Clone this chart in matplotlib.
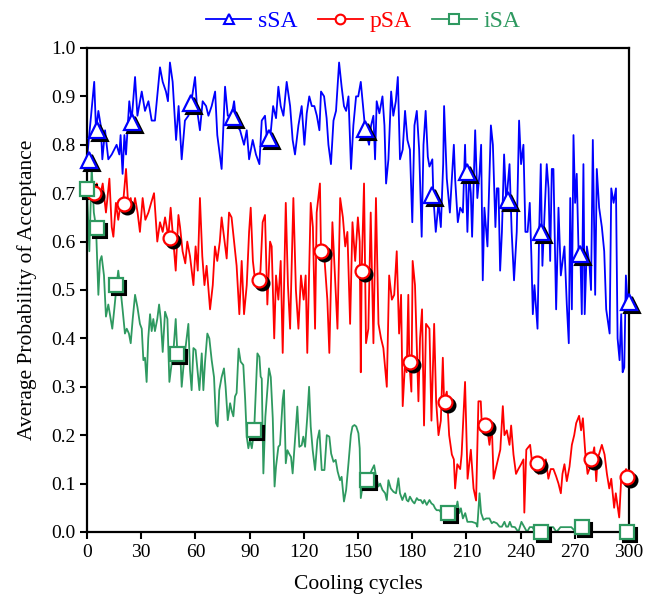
import matplotlib
matplotlib.use("Agg")
import matplotlib.pyplot as plt
from matplotlib.lines import Line2D
from matplotlib.transforms import offset_copy


# (cooling cycle, average probability of acceptance)
SSA_POINTS = [
    (0, 0.77), (4, 0.93), (5, 0.83), (6.3, 0.87), (7.6, 0.84), (8.5, 0.77), (10, 0.83), (11.8, 0.77),
    (13.7, 0.78), (16.4, 0.80), (17.9, 0.78), (18.6, 0.82), (19.7, 0.74), (20.7, 0.82), (21.6, 0.78),
    (23.4, 0.89), (24.7, 0.85), (26.6, 0.94), (27.9, 0.86), (30.3, 0.91), (32.1, 0.87), (34, 0.89),
    (35.8, 0.85), (37.6, 0.85), (38.9, 0.90), (40.4, 0.96), (41.9, 0.93), (43.7, 0.91), (44.8, 0.89),
    (45.9, 0.97), (47.4, 0.93), (49.3, 0.81), (50.7, 0.88), (52.4, 0.77), (54.2, 0.85), (56.1, 0.86),
    (57.4, 0.88), (59.8, 0.94), (61, 0.87), (62.5, 0.83), (64, 0.89), (65.9, 0.88), (67.2, 0.86),
    (69, 0.88), (70.9, 0.91), (72.1, 0.82), (74.5, 0.75), (76.4, 0.92), (77.9, 0.86), (80, 0.86),
    (81.4, 0.89), (82.8, 0.84), (84.7, 0.83), (86.9, 0.80), (88.4, 0.83), (89.7, 0.77), (91.7, 0.81),
    (93.5, 0.78), (95.4, 0.76), (96.7, 0.85), (98.5, 0.86), (99.4, 0.82), (101.3, 0.81), (103, 0.88),
    (104.6, 0.855), (105.9, 0.92), (107.2, 0.88), (108.7, 0.86), (110.5, 0.93), (112.4, 0.88),
    (113.8, 0.81), (115.1, 0.78), (117, 0.84), (118.8, 0.88), (120.3, 0.80), (121.6, 0.865), (123, 0.90),
    (124.4, 0.88), (125.8, 0.88), (127.2, 0.86), (128.6, 0.83), (129.5, 0.91), (131.2, 0.90),
    (132.6, 0.855), (133.6, 0.80), (135, 0.76), (136.4, 0.85), (137.8, 0.87), (139.5, 0.97),
    (140.9, 0.92), (142.2, 0.88), (143.4, 0.87), (144.7, 0.90), (146.1, 0.75), (147.4, 0.84),
    (148.9, 0.90), (150.1, 0.90), (151.5, 0.93), (153, 0.87), (154, 0.83), (156.1, 0.80), (157.2, 0.84),
    (158.5, 0.86), (159.4, 0.77), (160.3, 0.89), (161.8, 0.865), (163.5, 0.90), (164.6, 0.84),
    (165.5, 0.72), (166.8, 0.77), (168.3, 0.91), (169.5, 0.86), (170.9, 0.89), (172, 0.94), (173.2, 0.77),
    (174.7, 0.79), (176, 0.87), (177.3, 0.81), (178.7, 0.79), (180, 0.64), (181.2, 0.84), (182.5, 0.87),
    (183.8, 0.79), (185.2, 0.61), (186.2, 0.80), (187.4, 0.87), (188.6, 0.775), (189.5, 0.755),
    (191.1, 0.77), (191.7, 0.69), (193, 0.62), (194.5, 0.68), (195.8, 0.63), (197.1, 0.76), (197.6, 0.88),
    (199.1, 0.73), (200.8, 0.66), (203, 0.80), (203.7, 0.73), (205.2, 0.64), (206.5, 0.67), (208, 0.66),
    (209.2, 0.80), (210.5, 0.62), (211.5, 0.74), (212.4, 0.70), (213.1, 0.61), (214.8, 0.83), (216, 0.69),
    (217.2, 0.74), (218.1, 0.80), (219, 0.52), (219.9, 0.67), (221.6, 0.59), (223.5, 0.84), (224.6, 0.80),
    (226, 0.63), (226.8, 0.71), (227.7, 0.71), (228.6, 0.54), (229.6, 0.62), (230.8, 0.78), (232, 0.68),
    (233.8, 0.76), (235, 0.62), (236.3, 0.52), (237.8, 0.62), (239.1, 0.85), (240.2, 0.76), (241.5, 0.80),
    (242.6, 0.62), (243.8, 0.62), (245, 0.68), (245.9, 0.57), (246.7, 0.45), (247.6, 0.51), (249.3, 0.42),
    (250.2, 0.62), (251.1, 0.76), (252, 0.55), (253.1, 0.65), (254.4, 0.76), (255.4, 0.71), (256.3, 0.56),
    (257.2, 0.75), (258.1, 0.75), (259.6, 0.46), (260.9, 0.67), (262.2, 0.53), (264.2, 0.59),
    (265.5, 0.47), (266.6, 0.39), (267.4, 0.69), (268.3, 0.46), (269.2, 0.82), (270.1, 0.68), (271, 0.74),
    (272, 0.58), (272.9, 0.59), (273.8, 0.45), (274.7, 0.76), (275.4, 0.45), (276.6, 0.59), (278, 0.555),
    (278.9, 0.50), (279.9, 0.81), (281.2, 0.49), (282.1, 0.75), (283.4, 0.67), (284.9, 0.63),
    (286.2, 0.58), (287.3, 0.46), (289.2, 0.41), (290.1, 0.71), (291.4, 0.68), (292.7, 0.71),
    (293.6, 0.40), (294.7, 0.355), (295.6, 0.45), (296.4, 0.33), (297.3, 0.34), (298.2, 0.53),
    (299.2, 0.47), (300, 0.475),
]

PSA_POINTS = [
    (0, 0.72), (2, 0.70), (4, 0.70), (5.4, 0.72), (7, 0.69), (8.7, 0.72), (10.5, 0.66), (12.4, 0.73),
    (13.7, 0.63), (14.6, 0.61), (16, 0.68), (17.3, 0.645), (18.3, 0.67), (20, 0.68), (21.6, 0.75),
    (22.9, 0.67), (24.2, 0.69), (25.3, 0.66), (26.6, 0.69), (28, 0.66), (29.3, 0.62), (30.8, 0.69),
    (32.3, 0.645), (34, 0.66), (35.5, 0.68), (37.1, 0.70), (38.9, 0.60), (40.4, 0.64), (41.9, 0.62),
    (43.2, 0.65), (45, 0.61), (46.3, 0.67), (47.8, 0.60), (49.1, 0.54), (50.6, 0.655), (51.5, 0.63),
    (52.9, 0.58), (54.4, 0.555), (55.5, 0.60), (57, 0.57), (58.9, 0.51), (60.1, 0.59), (61.3, 0.54),
    (62.5, 0.69), (63.8, 0.57), (65, 0.51), (66.2, 0.55), (68.1, 0.46), (69.6, 0.51), (70.8, 0.59),
    (72.1, 0.56), (73.5, 0.60), (74.5, 0.65), (75.8, 0.61), (77.3, 0.565), (78.6, 0.66), (80, 0.65),
    (81.4, 0.60), (82.8, 0.55), (84.3, 0.45), (85.6, 0.56), (86.9, 0.45), (88.4, 0.51), (89.7, 0.62),
    (90.6, 0.67), (91.8, 0.56), (93, 0.52), (95, 0.52), (96, 0.54), (97.2, 0.64), (98.5, 0.655),
    (99.8, 0.47), (101.3, 0.60), (102.2, 0.59), (103.6, 0.40), (104.6, 0.53), (105.9, 0.48), (107.2, 0.56),
    (108.3, 0.37), (110, 0.68), (111.2, 0.51), (112.4, 0.42), (114.2, 0.69), (115.6, 0.50), (117, 0.42),
    (118.4, 0.53), (119.9, 0.48), (121, 0.53), (121.9, 0.37), (123.8, 0.68), (125, 0.63), (126.2, 0.42),
    (127.1, 0.66), (128.9, 0.72), (129.5, 0.58), (131.5, 0.56), (133, 0.48), (134.1, 0.37), (135.8, 0.64),
    (137.3, 0.52), (138.6, 0.42), (140.1, 0.69), (141.6, 0.65), (142.9, 0.59), (144.1, 0.62),
    (145.6, 0.43), (146.9, 0.64), (148.4, 0.56), (149.9, 0.65), (150.9, 0.60), (151.5, 0.33), (152, 0.54),
    (153.3, 0.72), (154.4, 0.39), (155.7, 0.42), (157, 0.66), (158.5, 0.39), (159.9, 0.69), (161.3, 0.43),
    (162.7, 0.40), (164, 0.38), (165.9, 0.30), (167.2, 0.53), (168.7, 0.48), (170, 0.49), (171.4, 0.58),
    (172.7, 0.41), (173.8, 0.49), (174.7, 0.26), (176, 0.35), (176.9, 0.33), (177.8, 0.49), (178.4, 0.35),
    (179.5, 0.29), (180.2, 0.56), (181.5, 0.51), (183.4, 0.27), (184.3, 0.40), (185.4, 0.46),
    (186.5, 0.22), (187.6, 0.43), (189.5, 0.42), (190.6, 0.23), (192.1, 0.43), (193.2, 0.27),
    (194.5, 0.20), (195.8, 0.23), (196.9, 0.36), (197.6, 0.27), (199.1, 0.29), (200.4, 0.20),
    (201.9, 0.16), (203, 0.15), (203.7, 0.09), (204.9, 0.14), (206.5, 0.13), (207.3, 0.16), (209.2, 0.31),
    (210.6, 0.11), (211.5, 0.14), (212.4, 0.17), (213.9, 0.09), (215.3, 0.065), (216.6, 0.27),
    (217.9, 0.27), (218.5, 0.22), (220, 0.21), (221.3, 0.22), (222.7, 0.18), (224, 0.22), (225, 0.11),
    (226.8, 0.14), (228.7, 0.17), (230.1, 0.26), (231, 0.20), (232.3, 0.21), (233.8, 0.18), (234.7, 0.22),
    (236, 0.16), (237.4, 0.12), (238.7, 0.13), (240.2, 0.14), (241.5, 0.15), (242, 0.04), (243.1, 0.17),
    (245.2, 0.18), (246.1, 0.15), (247, 0.15), (248.5, 0.14), (249.8, 0.12), (251.1, 0.15), (252.6, 0.14),
    (253.9, 0.15), (255.3, 0.11), (256.6, 0.13), (258.1, 0.13), (259.6, 0.115), (260.9, 0.10),
    (262.2, 0.08), (263.1, 0.12), (264.2, 0.14), (265.5, 0.105), (267, 0.135), (268.3, 0.18),
    (269.6, 0.20), (270.7, 0.225), (272.3, 0.24), (273.4, 0.21), (274.4, 0.235), (275.7, 0.165),
    (277, 0.12), (278.5, 0.135), (279.4, 0.15), (280.7, 0.175), (281.8, 0.105), (282.5, 0.15),
    (284.9, 0.18), (286.4, 0.16), (287.7, 0.12), (289, 0.09), (290.1, 0.11), (291.7, 0.05), (292.6, 0.08),
    (294.5, 0.03), (295.6, 0.11), (297, 0.12), (298.3, 0.13), (300, 0.11),
]

ISA_POINTS = [
    (0, 0.71), (1.3, 0.58), (2.6, 0.755), (3.8, 0.66), (5, 0.63), (6.3, 0.49), (7.2, 0.56), (8.1, 0.57),
    (9.4, 0.53), (10.5, 0.445), (11.8, 0.47), (12.7, 0.45), (14, 0.42), (15.1, 0.46), (16.4, 0.51),
    (17.3, 0.54), (18.6, 0.50), (19.7, 0.46), (21, 0.41), (22, 0.42), (23.2, 0.41), (24.2, 0.39),
    (25.3, 0.44), (26.6, 0.49), (27.9, 0.465), (29.3, 0.43), (30.3, 0.42), (31.2, 0.355), (32.1, 0.36),
    (33, 0.31), (33.9, 0.40), (34.9, 0.45), (35.8, 0.415), (36.7, 0.44), (37.6, 0.415), (38.9, 0.44),
    (39.9, 0.47), (40.8, 0.44), (41.9, 0.372), (43.2, 0.455), (44.5, 0.44), (45.6, 0.31), (46.9, 0.35),
    (47.8, 0.372), (49.1, 0.44), (50, 0.37), (51.5, 0.38), (52.4, 0.30), (53.7, 0.355), (54.8, 0.39),
    (56.1, 0.43), (57, 0.335), (57.9, 0.293), (58.9, 0.38), (60.1, 0.376), (61, 0.34), (62.2, 0.293),
    (63.5, 0.369), (64.4, 0.293), (65.3, 0.35), (66.6, 0.41), (67.7, 0.40), (69, 0.355), (70.3, 0.32),
    (71.4, 0.225), (72.3, 0.218), (73.2, 0.293), (74.5, 0.32), (75.8, 0.338), (76.7, 0.30), (77.9, 0.231),
    (79.2, 0.266), (80.1, 0.25), (81, 0.239), (81.9, 0.28), (82.8, 0.287), (83.9, 0.379), (85, 0.352),
    (86.5, 0.345), (87.5, 0.276), (88.4, 0.197), (89.3, 0.173), (90.2, 0.19), (91.2, 0.173), (92.5, 0.21),
    (94.3, 0.369), (95.4, 0.362), (96.1, 0.321), (96.7, 0.317), (97.6, 0.121), (98.7, 0.238),
    (99.8, 0.293), (100.7, 0.338), (101.7, 0.32), (102.8, 0.235), (103.8, 0.094), (104.6, 0.135),
    (105.9, 0.176), (106.8, 0.18), (108.3, 0.273), (109, 0.293), (110, 0.142), (110.9, 0.169),
    (111.8, 0.162), (112.9, 0.155), (113.8, 0.121), (115.1, 0.19), (116.4, 0.259), (117.5, 0.176),
    (118.8, 0.179), (119.7, 0.197), (120.7, 0.176), (121.9, 0.238), (122.9, 0.30), (123.8, 0.218),
    (124.9, 0.169), (126.2, 0.128), (127.5, 0.19), (128.6, 0.21), (129.9, 0.128), (131.4, 0.128),
    (132.7, 0.20), (134.1, 0.197), (135.1, 0.162), (136.4, 0.145), (137.6, 0.149), (138.7, 0.125),
    (140, 0.107), (140.9, 0.114), (142.2, 0.063), (143.4, 0.087), (144.7, 0.142), (146, 0.20),
    (146.9, 0.218), (148, 0.221), (149, 0.218), (150.2, 0.204), (150.9, 0.173), (151.5, 0.07),
    (153, 0.107), (154, 0.11), (155.5, 0.11), (157.6, 0.128), (158.9, 0.138), (160, 0.114),
    (161.3, 0.094), (162.2, 0.10), (163.5, 0.087), (165, 0.080), (165.9, 0.066), (166.8, 0.107),
    (168.1, 0.09), (169.6, 0.083), (171, 0.080), (172.3, 0.111), (173.2, 0.080), (174.5, 0.066),
    (176, 0.080), (176.9, 0.066), (177.8, 0.063), (178.7, 0.073), (180.2, 0.063), (181.2, 0.059),
    (182.5, 0.070), (183.4, 0.066), (184.7, 0.066), (185.8, 0.059), (186.7, 0.066), (188, 0.056),
    (189.5, 0.066), (190.6, 0.059), (191.7, 0.056), (192.6, 0.049), (193.5, 0.045), (195, 0.045),
    (196.3, 0.038), (199, 0.040), (201, 0.042), (202.8, 0.052), (203.7, 0.035), (205, 0.063), (206, 0.039),
    (206.9, 0.049), (208, 0.028), (209.3, 0.039), (210.5, 0.021), (213, 0.021), (215.3, 0.018),
    (216, 0.011), (217.2, 0.08), (218.1, 0.039), (219.4, 0.025), (220.9, 0.028), (222.7, 0.028),
    (224, 0.018), (225, 0.021), (226.8, 0.018), (228.3, 0.011), (229.6, 0.011), (231, 0.021),
    (232, 0.011), (233, 0.011), (234, 0.021), (235, 0.011), (236.8, 0.01), (238.7, 0.0), (240.4, 0.021),
    (242, 0.01), (243.5, 0.0), (245, 0.01), (246.5, 0.01), (248, 0.0), (251, 0.0), (253, 0.0),
    (254.4, 0.004), (256, 0.01), (258, 0.01), (259.8, 0.0), (262, 0.01), (265, 0.01), (268, 0.01),
    (270.5, 0.0), (272, 0.01), (274, 0.01), (276, 0.01), (277.5, 0.0), (280, 0.0), (300, 0.0),
]

SSA_MARKERS = [(1, 0.769), (5.5, 0.83), (25, 0.847), (57.5, 0.886), (81, 0.857), (100.5, 0.814),
               (154, 0.833), (191, 0.696), (210.5, 0.744), (233, 0.686), (251, 0.62), (273, 0.574),
               (300, 0.475)]
PSA_MARKERS = [(4, 0.70), (20.5, 0.678), (46, 0.607), (95, 0.52), (129.5, 0.58), (152, 0.54),
               (179, 0.351), (198, 0.269), (220, 0.221), (249, 0.143), (279, 0.151), (299, 0.114)]
ISA_MARKERS = [(0, 0.709), (5.5, 0.628), (16, 0.51), (50, 0.368), (92.5, 0.21), (155, 0.107),
               (200, 0.04), (251, 0.0), (274, 0.01), (299, 0.0)]

X_TICKS = list(range(0, 301, 30))
Y_TICKS = [i / 10 for i in range(0, 11)]

SERIES = [
    ("sSA", SSA_POINTS, SSA_MARKERS, "#0000ff", "^", 11),
    ("pSA", PSA_POINTS, PSA_MARKERS, "#ff0000", "o", 10),
    ("iSA", ISA_POINTS, ISA_MARKERS, "#2e9960", "s", 9.5),
]


def main():
    plt.rcParams["font.family"] = ["Liberation Serif", "DejaVu Serif"]
    fig = plt.figure(figsize=(6.54, 6.02), dpi=100)
    ax = fig.add_axes([0.133, 0.1163, 0.829, 0.804])

    # lines first, markers on top with a black drop shadow
    for name, points, _, color, _, _ in SERIES:
        xs, ys = zip(*points)
        ax.plot(xs, ys, color=color, linewidth=1.3, zorder=2)

    shadow = offset_copy(ax.transData, fig=fig, x=3, y=-3, units="dots")
    for name, _, markers, color, marker, size in SERIES:
        mx, my = zip(*markers)
        ax.plot(mx, my, linestyle="none", marker=marker, markersize=size, color="black",
                markeredgewidth=1.5, transform=shadow, zorder=3, clip_on=False)
        ax.plot(mx, my, linestyle="none", marker=marker, markersize=size, markerfacecolor="white",
                markeredgecolor=color, markeredgewidth=1.6, zorder=4, clip_on=False)

    ax.set_xlim(0, 300)
    ax.set_ylim(0, 1.0)
    ax.set_xticks(X_TICKS)
    ax.set_yticks(Y_TICKS)
    ax.set_yticklabels([f"{v:.1f}" for v in Y_TICKS])
    ax.tick_params(direction="out", length=5, width=1.5, labelsize=14, colors="black")
    for spine in ax.spines.values():
        spine.set_linewidth(1.6)
    ax.set_xlabel("Cooling cycles", fontsize=15.5, labelpad=10)
    ax.set_ylabel("Average Probability of Acceptance", fontsize=15.5, labelpad=10)

    handles = [
        Line2D([], [], color=color, marker=marker, markersize=size * 0.7, markerfacecolor="white",
               markeredgecolor=color, markeredgewidth=1.5, linewidth=1.3, label=name)
        for name, _, _, color, marker, size in SERIES
    ]
    legend = fig.legend(handles=handles, loc="center", bbox_to_anchor=(0.556, 0.964), ncol=3,
                        frameon=False, fontsize=17, handlelength=1.9, handletextpad=0.3,
                        columnspacing=0.85)
    for text, (_, _, _, color, _, _) in zip(legend.get_texts(), SERIES):
        text.set_color(color)

    fig.savefig("out.png", dpi=100)
    plt.close(fig)


if __name__ == "__main__":
    main()
